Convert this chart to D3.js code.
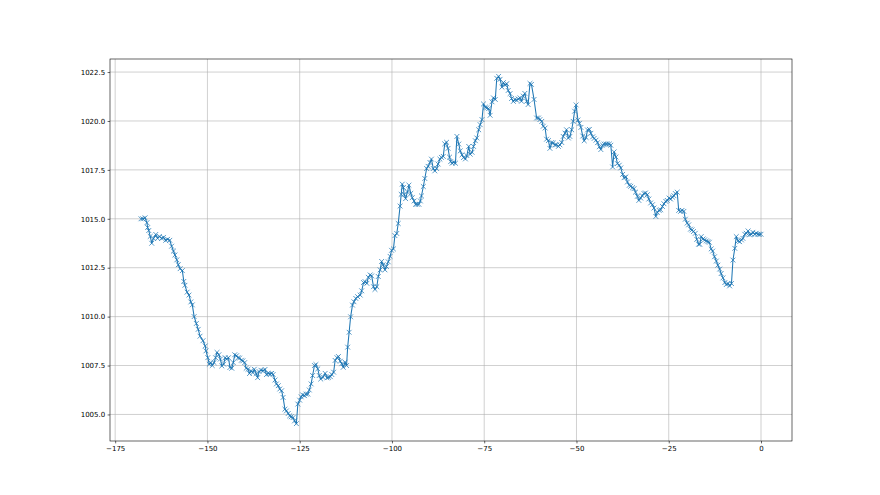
<!DOCTYPE html>
<html><head><meta charset="utf-8">
<script src="https://cdn.jsdelivr.net/npm/d3@7"></script>
<style>
html,body{margin:0;padding:0;background:#fff;}
svg{display:block;}
text{font-family:"DejaVu Sans",sans-serif;}
</style></head>
<body>
<svg id="chart" width="880" height="495"></svg>
<script>
// Hours relative to now
const hours = [
-168.0,-167.5,-166.9,-166.4,-166.2,-165.9,-165.5,-165.1,-164.6,-164.0,-163.5,-163.0,-162.4,-161.9,-161.3,-160.8,-160.2,-159.7,-159.2,-158.8,-158.3,-157.9,-157.4,-156.8,-156.4,-156.1,-155.5,-155.0,-154.5,-154.1,-153.6,-153.0,-152.5,-152.0,
-151.2,-150.6,-150.4,-149.9,-149.5,-149.1,-148.7,-148.2,-147.8,-147.4,-146.9,-146.5,-146.1,-145.6,-145.2,-144.8,-144.3,-143.9,-143.4,-143.0,-142.6,-142.1,-141.7,-141.3,-140.8,-140.4,-139.9,-139.5,-139.0,-138.6,-138.2,-137.7,-137.3,-136.8,-136.4,-136.0,-135.5,
-134.9,-134.4,-134.0,-133.5,-133.1,-132.6,-132.2,-131.7,-131.3,-130.8,-130.4,-129.9,-129.5,-129.0,-128.6,-128.1,-127.7,-127.3,-126.8,-126.4,-125.9,-125.5,-125.0,-124.6,-124.2,-123.7,-123.3,-122.8,-122.4,-121.9,-121.5,-121.0,-120.6,-120.1,-119.7,-119.3,-118.7,
-118.1,-117.6,-117.2,-116.7,-116.3,-115.8,-115.4,-114.9,-114.5,-114.0,-113.6,-113.2,-112.7,-112.3,-112.0,-111.6,-111.2,-110.7,-110.3,-109.8,-109.3,-108.6,-108.2,-107.7,-107.3,-106.8,-106.4,-105.9,-105.5,-105.0,-104.6,-104.1,-103.7,-103.2,-102.8,-102.4,-101.9,-101.5,
-101.0,-100.5,-100.1,-99.6,-99.2,-98.7,-98.3,-97.8,-97.5,-97.2,-96.9,-96.7,-96.3,-95.8,-95.4,-94.9,-94.5,-94.0,-93.6,-93.2,-92.7,-92.3,-92.0,-91.5,-91.1,-90.6,-90.2,-89.7,-89.3,-88.8,-88.4,-87.9,-87.5,-87.0,-86.6,-86.1,-85.7,-85.2,-84.8,-84.4,
-84.1,-83.7,-83.3,-82.8,-82.4,-81.9,-81.5,-81.0,-80.6,-80.1,-79.7,-79.2,-78.8,-78.3,-77.9,-77.4,-77.0,-76.5,-76.1,-75.6,-75.2,-74.7,-74.3,-73.8,-73.4,-72.9,-72.5,-72.0,-71.6,-71.1,-70.7,-70.2,-69.8,-69.4,-68.9,-68.5,-68.0,-67.6,-67.1,
-66.7,-66.2,-65.8,-65.3,-64.9,-64.4,-64.0,-63.5,-63.1,-62.6,-62.2,-61.5,-60.8,-60.3,-59.9,-59.4,-59.0,-58.5,-58.1,-57.6,-57.2,-56.7,-56.3,-55.8,-55.4,-54.9,-54.5,-54.0,-53.6,-53.1,-52.7,-52.2,-51.8,-51.3,-50.9,-50.5,-50.1,
-49.6,-49.2,-48.8,-48.3,-47.9,-47.4,-47.0,-46.5,-46.1,-45.6,-45.2,-44.7,-44.3,-43.8,-43.4,-42.9,-42.5,-42.0,-41.6,-41.1,-40.7,-40.2,-39.8,-39.3,-38.9,-38.4,-38.0,-37.5,-37.1,-36.6,-36.2,-35.7,-35.3,-34.8,-34.4,
-34.0,-33.5,-33.1,-32.6,-32.2,-31.7,-31.3,-30.8,-30.4,-29.9,-29.4,-29.0,-28.5,-28.1,-27.6,-27.2,-26.7,-26.3,-25.8,-25.4,-24.9,-24.5,-24.0,-23.6,-23.2,-22.7,-22.3,-21.8,-21.4,-20.9,-20.5,-20.0,-19.6,-19.1,-18.7,-18.3,-17.8,-17.4,-16.9,
-16.6,-16.2,-15.7,-15.3,-14.8,-14.4,-14.0,-13.5,-13.1,-12.6,-12.1,-11.7,-11.2,-10.8,-10.3,-9.8,-9.4,-8.9,-8.5,-8.0,-7.6,-7.1,-6.7,-6.2,-5.8,-5.3,-4.9,-4.4,-4.0,-3.5,-3.1,-2.6,-2.2,-1.7,-1.3,-0.8,-0.4,0.0
];
// Pressure (hPa)
const pressure = [
1015.0,1015.0,1015.05,1014.8,1014.55,1014.4,1014.1,1013.75,1014.0,1014.2,1014.0,1014.1,1014.0,1014.05,1013.9,1013.95,1013.9,1013.6,1013.35,1013.15,1012.9,1012.65,1012.45,1012.35,1011.8,1011.6,1011.25,1011.1,1010.75,1010.6,1010.0,1009.65,1009.35,1009.0,
1008.77,1008.5,1008.25,1007.9,1007.57,1007.65,1007.5,1007.65,1007.9,1008.17,1008.05,1007.83,1007.48,1007.57,1007.9,1007.83,1007.9,1007.4,1007.36,1007.65,1008.05,1008.0,1007.9,1007.88,1007.77,1007.74,1007.65,1007.36,1007.31,1007.09,1007.23,1007.14,1007.31,1007.09,1006.88,1007.19,1007.26,
1007.24,1007.3,1007.04,1007.1,1007.07,1007.1,1007.04,1006.76,1006.56,1006.47,1006.3,1006.21,1005.87,1005.27,1005.18,1005.05,1004.93,1004.88,1004.84,1004.67,1004.53,1005.53,1005.73,1005.9,1006.0,1005.96,1006.04,1006.04,1006.25,1006.56,1006.99,1007.5,1007.55,1007.33,1006.99,1006.81,1006.9,
1007.1,1006.87,1006.9,1006.93,1007.04,1007.16,1007.76,1007.9,1007.96,1007.72,1007.59,1007.41,1007.67,1007.5,1008.44,1009.2,1009.99,1010.59,1010.76,1010.93,1011.02,1011.1,1011.32,1011.74,1011.79,1011.7,1012.01,1012.13,1012.08,1011.53,1011.39,1011.53,1012.05,1012.39,1012.82,1012.65,1012.39,1012.56,
1012.8,1013.08,1013.39,1013.46,1014.14,1014.25,1014.76,1015.65,1016.25,1016.77,1016.6,1016.25,1016.03,1016.37,1016.72,1016.3,1016.08,1015.91,1015.74,1015.74,1015.74,1015.91,1016.17,1016.65,1017.06,1017.57,1017.68,1017.88,1018.05,1017.57,1017.45,1017.57,1017.8,1018.05,1018.14,1018.19,1018.83,1018.91,1018.6,1018.15,
1017.92,1017.84,1017.89,1017.84,1019.21,1018.82,1018.47,1018.27,1018.13,1018.06,1018.23,1018.7,1018.3,1018.4,1018.7,1018.99,1019.13,1019.55,1019.81,1020.07,1020.87,1020.7,1020.67,1020.63,1020.29,1020.98,1021.18,1021.1,1022.18,1022.28,1022.13,1021.73,1021.96,1021.84,1021.9,1021.56,1021.4,1021.15,1021.0,
1021.1,1021.06,1021.13,1021.18,1021.01,1021.27,1021.41,1021.01,1020.84,1021.92,1021.87,1021.1,1020.15,1020.15,1020.07,1019.98,1019.73,1019.64,1019.07,1019.0,1018.6,1018.9,1018.87,1018.78,1018.78,1018.7,1018.78,1018.9,1019.21,1019.38,1019.55,1019.13,1019.21,1019.55,1019.98,1020.5,1020.82,
1020.05,1019.88,1019.67,1019.23,1018.99,1019.16,1019.54,1019.57,1019.37,1019.19,1019.11,1019.02,1018.89,1018.68,1018.54,1018.76,1018.82,1018.82,1018.82,1018.82,1018.76,1017.65,1018.42,1018.16,1017.82,1017.74,1017.6,1017.27,1017.1,1017.14,1016.88,1016.71,1016.66,1016.59,1016.54,
1016.36,1016.15,1015.94,1016.06,1016.18,1016.29,1016.32,1016.23,1016.01,1015.81,1015.72,1015.55,1015.12,1015.33,1015.43,1015.46,1015.63,1015.77,1015.89,1015.94,1016.06,1016.01,1016.11,1016.18,1016.29,1016.36,1015.43,1015.38,1015.43,1015.38,1014.98,1014.78,1014.69,1014.47,1014.43,1014.35,1014.26,1013.95,1013.7,
1013.7,1014.09,1013.97,1013.92,1013.87,1013.83,1013.8,1013.46,1013.35,1013.06,1012.84,1012.63,1012.43,1012.2,1011.98,1011.74,1011.64,1011.69,1011.57,1011.69,1012.89,1013.49,1014.09,1013.87,1013.83,1013.92,1014.0,1014.21,1014.26,1014.38,1014.18,1014.21,1014.31,1014.21,1014.26,1014.21,1014.21,1014.21
];
const xTicks = [-175,-150,-125,-100,-75,-50,-25,0];
const yTicks = [1005.0,1007.5,1010.0,1012.5,1015.0,1017.5,1020.0,1022.5];

const data = hours.map((h,i)=>({h, p: pressure[i]}));

const svg = d3.select("#chart");
const L = 110, T = 59, W = 682, H = 382;

const xExt = d3.extent(hours), yExt = d3.extent(pressure);
const xPad = (xExt[1]-xExt[0])*0.05, yPad = (yExt[1]-yExt[0])*0.05;
const x = d3.scaleLinear().domain([xExt[0]-xPad, xExt[1]+xPad]).range([L, L+W]);
const y = d3.scaleLinear().domain([yExt[0]-yPad, yExt[1]+yPad]).range([T+H, T]);

const fmtX = d => (d<0 ? "\u2212" + Math.abs(d) : String(d));
const fmtY = d => d.toFixed(1);

// grid
const g = svg.append("g");
g.selectAll(".gx").data(xTicks).join("line")
  .attr("x1", d=>x(d)).attr("x2", d=>x(d)).attr("y1", T).attr("y2", T+H)
  .attr("stroke", "#b0b0b0").attr("stroke-width", 0.6);
g.selectAll(".gy").data(yTicks).join("line")
  .attr("x1", L).attr("x2", L+W).attr("y1", d=>y(d)).attr("y2", d=>y(d))
  .attr("stroke", "#b0b0b0").attr("stroke-width", 0.6);

// line
const line = d3.line().x(d=>x(d.h)).y(d=>y(d.p));
svg.append("path").datum(data).attr("d", line)
  .attr("fill","none").attr("stroke","#1f77b4").attr("stroke-width",1.05)
  .attr("stroke-linejoin","round");

// x markers
const ms = 2.4;
svg.append("g").selectAll("path").data(data).join("path")
  .attr("d", d=>{const cx=x(d.h), cy=y(d.p);
    return `M${cx-ms},${cy-ms}L${cx+ms},${cy+ms}M${cx-ms},${cy+ms}L${cx+ms},${cy-ms}`;})
  .attr("stroke","#1f77b4").attr("stroke-width",0.75).attr("fill","none");

// axes
const xAxis = d3.axisBottom(x).tickValues(xTicks).tickFormat(fmtX).tickSize(2.4).tickPadding(2.4);
const yAxis = d3.axisLeft(y).tickValues(yTicks).tickFormat(fmtY).tickSize(2.4).tickPadding(2.4);
const gx = svg.append("g").attr("transform", `translate(0,${T+H})`).call(xAxis);
const gy = svg.append("g").attr("transform", `translate(${L},0)`).call(yAxis);
[gx, gy].forEach(a=>{
  a.select(".domain").remove();
  a.selectAll(".tick line").attr("stroke","#000").attr("stroke-width",0.6);
  a.selectAll(".tick text").attr("fill","#000").style("font-size","7px").style("font-family","DejaVu Sans, sans-serif");
});

// spines
svg.append("rect").attr("x",L).attr("y",T).attr("width",W).attr("height",H)
  .attr("fill","none").attr("stroke","#000").attr("stroke-width",0.6);
</script>
</body></html>
